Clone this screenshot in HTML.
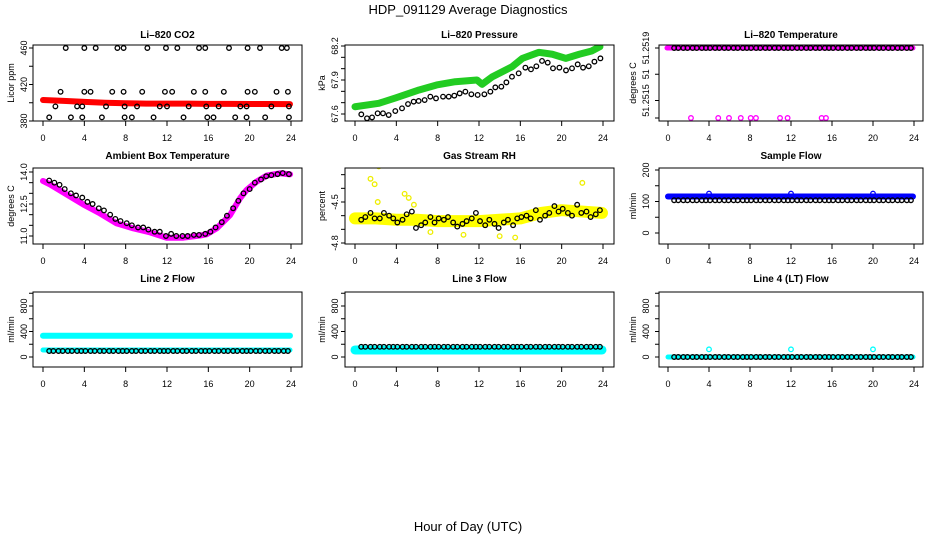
<!DOCTYPE html>
<html><head><meta charset="utf-8"><style>
html,body{margin:0;padding:0;background:#fff}
svg{display:block}
text{font-family:"Liberation Sans",sans-serif}
</style></head><body>
<svg id="chart" width="936" height="540" viewBox="0 0 936 540" xmlns="http://www.w3.org/2000/svg">
<text x="468" y="14" font-size="13" text-anchor="middle">HDP_091129  Average Diagnostics</text>
<text x="468" y="531" font-size="13" text-anchor="middle">Hour of Day (UTC)</text>
</svg>
<script>
// ---- shared data ----
const xTicks = [0,4,8,12,16,20,24];
const blackHours = [0.6,1.0,1.5,1.9,2.4,2.8,3.3,3.7,4.1,4.6,5.0,5.5,5.9,6.4,6.8,7.3,7.7,8.1,8.6,9.0,9.5,9.9,10.4,10.8,11.3,11.7,12.1,12.6,13.0,13.5,13.9,14.4,14.8,15.3,15.7,16.1,16.6,17.0,17.5,17.9,18.4,18.8,19.3,19.7,20.1,20.6,21.0,21.5,21.9,22.4,22.8,23.3,23.7];
const bandHours = [0,2,4,6,8,10,12,14,16,18,20,22,23.9];
// CO2
const co2BandValues = [403,402,401,400,399.5,399,399,399,398.8,398.8,398.6,398.6,398.5];
const co2BlackHours = [2.2,4.0,5.1,7.2,7.8,10.1,11.9,13.0,15.1,15.7,18.0,19.8,21.0,23.1,23.6,1.7,4.0,4.6,6.7,7.8,9.6,11.8,12.5,14.6,15.7,17.5,19.8,20.5,22.6,23.7,1.2,3.3,3.8,6.1,7.9,9.1,11.3,12.0,14.1,15.8,17.0,19.1,19.7,22.1,23.8,0.6,2.7,3.8,5.7,7.9,8.6,10.7,13.6,15.9,16.5,18.6,19.7,21.5,23.8];
const co2BlackValues = [460,460,460,460,460,460,460,460,460,460,460,460,460,460,460,412,412,412,412,412,412,412,412,412,412,412,412,412,412,412,396,396,396,396,396,396,396,396,396,396,396,396,396,396,396,384,384,384,384,384,384,384,384,384,384,384,384,384,384];
// Pressure
const presBandHours = [0,2.3,4.0,6.2,7.9,9.7,11.8,12.3,13.3,15.2,16.2,17.8,19.1,20.4,21.7,22.9,23.7];
const presBandValues = [67.664,67.694,67.744,67.812,67.856,67.885,67.9,67.862,67.929,68.017,68.091,68.144,68.127,68.091,68.127,68.156,68.194];
const presBlackHours = [0.61,1.16,1.65,2.19,2.71,3.26,3.9,4.55,5.13,5.68,6.16,6.74,7.29,7.84,8.52,9.07,9.61,10.13,10.68,11.26,11.87,12.52,13.1,13.58,14.16,14.65,15.19,15.84,16.49,17.03,17.55,18.1,18.65,19.16,19.78,20.42,21.0,21.55,22.07,22.62,23.17,23.75];
const presBlackValues = [67.597,67.562,67.570,67.606,67.606,67.591,67.626,67.650,67.688,67.709,67.715,67.723,67.753,67.738,67.753,67.753,67.762,67.782,67.797,67.774,67.768,67.774,67.797,67.835,67.841,67.879,67.929,67.959,68.009,67.994,68.021,68.068,68.053,68.003,68.009,67.985,68.003,68.038,68.009,68.021,68.062,68.091];
// Li-820 Temperature
const tempTop = 51.2519;
const tempOutlierHours = [2.24,4.9,5.95,7.1,8.07,8.58,10.93,11.67,14.99,15.41];
const tempOutlierValue = 51.2515;
// Ambient box temp
const ambHours = [0,0.68,2.29,3.9,5.52,7.13,8.74,10.36,11.97,13.58,15.2,15.84,16.81,18.1,19.07,19.71,20.68,21.65,22.94,23.91];
const ambValues = [13.58,13.42,12.95,12.48,12.06,11.59,11.36,11.17,10.92,10.92,11.02,11.08,11.36,11.98,12.77,13.16,13.55,13.83,13.94,13.89];
const ambBlackHours = [0.6,1.1,1.6,2.1,2.7,3.2,3.8,4.3,4.8,5.4,5.9,6.5,7.0,7.5,8.1,8.6,9.2,9.7,10.2,10.8,11.3,11.9,12.4,12.9,13.5,14.0,14.6,15.1,15.7,16.2,16.7,17.3,17.8,18.4,18.9,19.4,20.0,20.5,21.1,21.6,22.1,22.7,23.2,23.8];
const ambBlackValues = [13.6,13.5,13.4,13.2,13.0,12.9,12.8,12.6,12.5,12.3,12.2,12.0,11.8,11.7,11.6,11.5,11.4,11.4,11.3,11.2,11.2,11.0,11.1,11.0,11.0,11.0,11.05,11.05,11.1,11.2,11.4,11.65,11.95,12.3,12.65,13.0,13.2,13.5,13.65,13.8,13.85,13.9,13.95,13.9];
// Gas RH
const rhBandValues = [-4.62,-4.62,-4.63,-4.63,-4.64,-4.64,-4.64,-4.63,-4.62,-4.58,-4.56,-4.57,-4.58];
const rhOutlierHours = [1.5,1.9,2.3,2.5,2.7,2.2,4.9,5.0,5.1,5.2,4.8,5.7,7.3,10.5,14.0,15.5,22.0];
const rhOutlierValues = [-4.33,-4.37,-4.24,-4.12,-4.18,-4.50,-4.20,-4.23,-4.19,-4.47,-4.44,-4.52,-4.72,-4.74,-4.75,-4.76,-4.36];
const rhBlackValues = [-4.63,-4.61,-4.58,-4.62,-4.62,-4.58,-4.60,-4.62,-4.65,-4.63,-4.59,-4.57,-4.69,-4.67,-4.65,-4.61,-4.65,-4.62,-4.63,-4.61,-4.65,-4.68,-4.66,-4.64,-4.62,-4.58,-4.64,-4.67,-4.63,-4.66,-4.69,-4.65,-4.63,-4.67,-4.62,-4.61,-4.6,-4.62,-4.56,-4.63,-4.6,-4.58,-4.53,-4.57,-4.55,-4.58,-4.60,-4.52,-4.58,-4.57,-4.61,-4.59,-4.56];
// Flows
const sampleBandValues = [116,116,116,116,116,116,116,116,116,116,116,116,116];
const sampleBlackValue = 104;
const line2BandHigh = [333,333,333,333,333,333,333,333,333,333,333,333,333];
const line2BandLow = [110,110,110,110,110,110,110,110,110,110,110,110,110];
const line2BlackValue = 94;
const line3BandValues = [110,110,110,110,110,110,110,110,110,110,110,110,110];
const line3BlackValue = 160;
const line4BandValues = [0,0,0,0,0,0,0,0,0,0,0,0,0];
const line4OutlierHours = [4,12,20];
const line4OutlierValue = 120;
const line4BlackValue = 0;

const svg = document.getElementById('chart');
const NS = 'http://www.w3.org/2000/svg';
function mk(tag, attrs, parent){const e=document.createElementNS(NS,tag);for(const k in attrs)e.setAttribute(k,attrs[k]);(parent||svg).appendChild(e);return e;}

const cols=[{l:33,r:302,x0:43,x24:291,yl:14,tl:27},{l:345,r:614,x0:355,x24:603,yl:325,tl:338},{l:659,r:923,x0:668,x24:914,yl:636,tl:649}];
const rows=[{t:45,b:121,title:38},{t:168,b:244,title:159},{t:292,b:367,title:282}];

function panel(name,ci,ri,title,ylab,v0,p0,v1,p1,yTicks,yLabels,yLabelVals){
  const c=cols[ci], r=rows[ri];
  const g=mk('g',{});
  
  
  const x=h=>c.x0+(c.x24-c.x0)*h/24;
  const y=v=>p0+(p1-p0)*(v-v0)/(v1-v0);
  const cp='clip-'+name;
  const cpe=mk('clipPath',{id:cp},g); mk('rect',{x:c.l,y:r.t,width:c.r-c.l,height:r.b-r.t},cpe);
  const data=mk('g',{'clip-path':'url(#'+cp+')'},g);
  
  
  const fr=mk('rect',{x:c.l,y:r.t,width:c.r-c.l,height:r.b-r.t,fill:'none',stroke:'#000','stroke-width':1},g);
  
  
  const t=mk('text',{x:(c.l+c.r)/2,y:r.title,'font-size':10,'font-weight':'bold','text-anchor':'middle'},g); t.textContent=title;
  
  
  const yl=mk('text',{x:c.yl,y:(r.t+r.b)/2,'font-size':9,'text-anchor':'middle',transform:`rotate(-90 ${c.yl} ${(r.t+r.b)/2})`},g); yl.textContent=ylab;
  
  
  mk('line',{x1:c.x0,x2:c.x24,y1:r.b,y2:r.b,stroke:'#000'},g);
  xTicks.forEach(h=>{
    mk('line',{x1:x(h),x2:x(h),y1:r.b,y2:r.b+5,stroke:'#000'},g);
    const tl=mk('text',{x:x(h),y:r.b+20,'font-size':9,'text-anchor':'middle'},g); tl.textContent=h;
    
    
  });
  mk('line',{x1:c.l,x2:c.l,y1:y(yTicks[0]),y2:y(yTicks[yTicks.length-1]),stroke:'#000'},g);
  yTicks.forEach(v=>mk('line',{x1:c.l-4,x2:c.l,y1:y(v),y2:y(v),stroke:'#000'},g));
  yLabels.forEach((s,i)=>{
    const py=y(yLabelVals[i]);
    const tl=mk('text',{x:c.tl,y:py,'font-size':9,'text-anchor':'middle',transform:`rotate(-90 ${c.tl} ${py})`},g); tl.textContent=s;
    
    
  });
  return {x,y,data};
}
function band(p,hs,vs,color,w){
  const pts=hs.map((h,i)=>p.x(h)+','+p.y(vs[i])).join(' ');
  const pl=mk('polyline',{points:pts,fill:'none',stroke:color,'stroke-width':w,'stroke-linejoin':'round','stroke-linecap':'round'},p.data);
  
  
}
function pts(p,hs,vs,color){
  hs.forEach((h,i)=>{
    const c=mk('circle',{cx:p.x(h),cy:p.y(vs[i]),r:2.3,fill:'none',stroke:color,'stroke-width':1.3},p.data);
    
    
  });
}
const rep=(v)=>blackHours.map(()=>v);

// Row 1
let p=panel('co2',0,0,'Li\u2013820 CO2','Licor ppm',460,48,380,121,[380,400,420,440,460],['380','420','460'],[380,420,460]);
band(p,bandHours,co2BandValues,'#ff0000',6);
pts(p,co2BlackHours,co2BlackValues,'#000');

p=panel('pressure',1,0,'Li\u2013820 Pressure','kPa',68.2,46,67.6,114,[67.6,67.7,67.8,67.9,68.0,68.1,68.2],['67.6','67.9','68.2'],[67.6,67.9,68.2]);
band(p,presBandHours,presBandValues,'#22cc22',7);
pts(p,presBlackHours,presBlackValues,'#000');

p=panel('li820-temperature',2,0,'Li\u2013820 Temperature','degrees C',51.2519,48,51.2515,118,[51.2519,51.25175,51.2516,51.2515],['51.2519','51','51.2515'],[51.2519,51.25175,51.2516]);
band(p,[-0.1,23.9],[tempTop,tempTop],'#ff00ff',5);
pts(p,blackHours,rep(tempTop),'#000');
pts(p,tempOutlierHours,tempOutlierHours.map(()=>tempOutlierValue),'#ff00ff');

// Row 2
p=panel('ambient-box-temperature',0,1,'Ambient Box Temperature','degrees C',14.0,172,11.0,236,[11.0,11.5,12.0,12.5,13.0,13.5,14.0],['11.0','12.5','14.0'],[11.0,12.5,14.0]);
band(p,ambHours,ambValues,'#ff00ff',6);
pts(p,ambBlackHours,ambBlackValues,'#000');

p=panel('gas-stream-rh',1,1,'Gas Stream RH','percent',-4.5,202,-4.8,243,[-4.8,-4.7,-4.6,-4.5,-4.4,-4.3],['-4.8','-4.5'],[-4.8,-4.5]);
band(p,bandHours,rhBandValues,'#ffff00',12);
pts(p,rhOutlierHours,rhOutlierValues,'#eeee00');
pts(p,blackHours,rhBlackValues,'#000');

p=panel('sample-flow',2,1,'Sample Flow','ml/min',200,170,0,233,[0,50,100,150,200],['0','100','200'],[0,100,200]);
band(p,bandHours,sampleBandValues,'#0000ff',6);
pts(p,[4,12,20],[125,125,125],'#0000ff');
pts(p,blackHours,rep(sampleBlackValue),'#000');

// Row 3
const flowTicks=[0,200,400,600,800,1000];
p=panel('line2-flow',0,2,'Line 2 Flow','ml/min',0,357,800,306,flowTicks,['0','400','800'],[0,400,800]);
band(p,bandHours,line2BandHigh,'#00ffff',6);
band(p,bandHours,line2BandLow,'#00ffff',5);
pts(p,blackHours,rep(line2BlackValue),'#000');

p=panel('line3-flow',1,2,'Line 3 Flow','ml/min',0,357,800,306,flowTicks,['0','400','800'],[0,400,800]);
band(p,bandHours,line3BandValues,'#00ffff',9);
pts(p,blackHours,rep(line3BlackValue),'#000');

p=panel('line4-flow',2,2,'Line 4 (LT) Flow','ml/min',0,357,800,306,flowTicks,['0','400','800'],[0,400,800]);
band(p,bandHours,line4BandValues,'#00ffff',5);
pts(p,line4OutlierHours,line4OutlierHours.map(()=>line4OutlierValue),'#00ffff');
pts(p,blackHours,rep(line4BlackValue),'#000');
</script>
</body></html>
